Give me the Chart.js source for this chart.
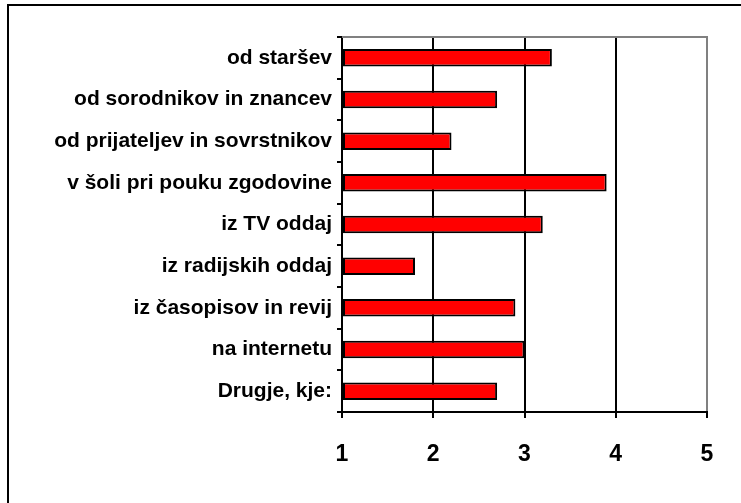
<!DOCTYPE html>
<html lang="sl">
<head>
  <meta charset="UTF-8" />
  <title>Viri</title>
  <script src="https://cdn.jsdelivr.net/npm/chart.js"></script>
  <style>
    html, body {
      margin: 0;
      padding: 0;
      background: #fff;
      overflow: hidden;
    }
    #wrap {
      position: relative;
      width: 741px;
      height: 503px;
    }
    #frame {
      position: absolute;
      left: 7px;
      top: 4px;
      width: 800px;
      height: 600px;
      border: 2px solid #000;
    }
    #chart {
      position: absolute;
      left: 0;
      top: 0;
    }
  </style>
</head>
<body>
  <div id="wrap">
    <div id="frame"></div>
    <canvas id="chart" width="741" height="503"></canvas>
  </div>

  <script>
// categories and mean scores
const categories = [
  'od staršev',
  'od sorodnikov in znancev',
  'od prijateljev in sovrstnikov',
  'v šoli pri pouku zgodovine',
  'iz TV oddaj',
  'iz radijskih oddaj',
  'iz časopisov in revij',
  'na internetu',
  'Drugje, kje:'
];
const scores = [3.3, 2.7, 2.2, 3.9, 3.2, 1.8, 2.9, 3.0, 2.7];
const xTicks = [1, 2, 3, 4, 5];

const labelFont = { family: '"Liberation Sans", Arial, sans-serif', size: 21, weight: 'bold' };
const tickFont = { family: '"Liberation Sans", Arial, sans-serif', size: 23, weight: 'bold' };

// gray line along the top of the plot area
const topBorder = {
  id: 'topBorder',
  afterDraw(chart) {
    const a = chart.chartArea;
    const ctx = chart.ctx;
    ctx.save();
    ctx.strokeStyle = '#808080';
    ctx.lineWidth = 2;
    ctx.beginPath();
    ctx.moveTo(a.left, a.top);
    ctx.lineTo(a.right + 1, a.top);
    ctx.stroke();
    ctx.restore();
  }
};

new Chart(document.getElementById('chart'), {
  type: 'bar',
  data: {
    labels: categories,
    datasets: [{
      data: scores,
      base: 1,
      backgroundColor: '#ff0000',
      borderColor: '#000000',
      borderWidth: 2,
      borderSkipped: false,
      barPercentage: 0.42,
      categoryPercentage: 1
    }]
  },
  options: {
    indexAxis: 'y',
    responsive: false,
    animation: false,
    layout: { padding: { left: 0, top: 37, right: 34, bottom: 0 } },
    plugins: {
      legend: { display: false },
      tooltip: { enabled: false }
    },
    scales: {
      x: {
        min: 1,
        max: 5,
        afterFit(scale) { scale.height = 91; },
        afterBuildTicks(scale) { scale.ticks = xTicks.map(v => ({ value: v })); },
        border: { display: true, color: '#000', width: 2 },
        grid: {
          color: ctx => (ctx.tick && ctx.tick.value === 5 ? '#808080' : '#000'),
          tickColor: '#000',
          lineWidth: 2,
          tickLength: 6
        },
        ticks: {
          color: '#000',
          font: tickFont,
          padding: 23
        }
      },
      y: {
        afterFit(scale) { scale.width = 342; },
        border: { display: true, color: '#000', width: 2 },
        grid: {
          drawOnChartArea: false,
          color: '#000',
          lineWidth: 2,
          tickLength: 5
        },
        ticks: {
          color: '#000',
          font: labelFont,
          padding: 5
        }
      }
    }
  },
  plugins: [topBorder]
});
</script>
</body>
</html>
